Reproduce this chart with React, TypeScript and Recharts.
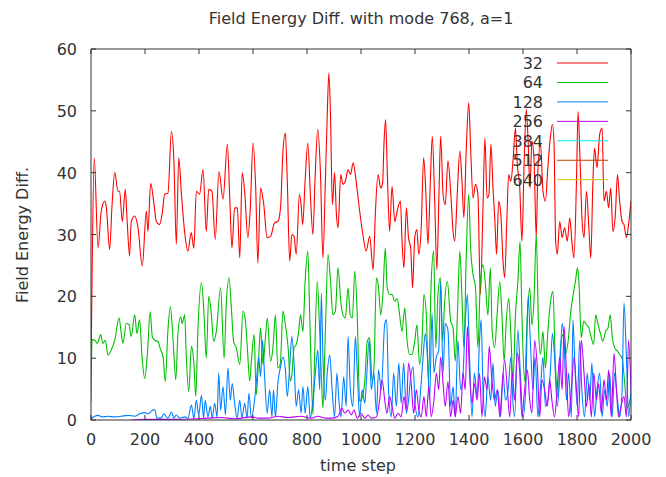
import React from 'react';
import { LineChart, Line, XAxis, YAxis } from 'recharts';

const FONT = '"DejaVu Sans", sans-serif';
const TEXT = '#333333';
const FRAME = '#333333';

const chartTitle = 'Field Energy Diff. with mode 768, a=1';
const xLabel = 'time step';
const yLabel = 'Field Energy Diff.';

const xTicks = [0, 200, 400, 600, 800, 1000, 1200, 1400, 1600, 1800, 2000];
const yTicks = [0, 10, 20, 30, 40, 50, 60];

const seriesNames = ['32', '64', '128', '256', '384', '512', '640'];
const seriesColors = ['#ff0000', '#00c000', '#0080ff', '#c000ff', '#00eeee', '#c04000', '#c8c800'];

// [time step, value]
const mode32: [number, number][] = [
  [0, 8], [4, 23.5], [12, 42.4], [26, 27.8], [38, 33.8], [51, 35.4], [57, 34.3], [69, 27.6], [78, 34.8], [88, 40.0],
  [100, 37.0], [106, 37.0], [116, 32.1], [127, 37.3], [134, 32.1], [143, 26.5], [149, 32.1], [162, 33.0], [174, 31.1], [190, 24.9],
  [205, 33.8], [211, 30.5], [221, 38.3], [232, 35.4], [242, 32.1], [254, 31.6], [263, 33.2], [273, 36.5], [285, 36.7], [298, 46.7],
  [307, 41.9], [316, 28.4], [325, 42.4], [335, 36.5], [347, 30.3], [359, 27.3], [371, 30.3], [381, 27.8], [390, 37.0], [402, 36.5],
  [415, 40.5], [427, 30.5], [436, 37.3], [448, 37.0], [460, 29.2], [474, 40.2], [489, 35.7], [505, 44.6], [514, 35.9], [522, 27.8],
  [532, 34.3], [542, 34.3], [551, 26.2], [560, 40.0], [569, 37.0], [581, 29.5], [590, 34.3], [600, 44.8], [610, 37.5], [618, 25.4],
  [628, 37.5], [640, 34.8], [652, 29.5], [665, 29.7], [680, 31.9], [692, 32.1], [702, 34.3], [711, 43.5], [720, 46.4], [727, 38.6],
  [736, 25.7], [744, 30.0], [752, 29.7], [760, 26.8], [772, 36.5], [778, 34.8], [784, 31.6], [793, 38.6], [803, 44.8], [813, 35.9],
  [822, 30.0], [830, 39.2], [840, 47.0], [850, 39.7], [859, 26.2], [868, 38.6], [875, 49.4], [881, 56.1], [887, 49.4], [894, 34.8],
  [902, 40.0], [909, 33.2], [915, 31.1], [925, 39.7], [933, 38.1], [942, 38.6], [952, 40.5], [961, 39.7], [971, 41.6], [982, 38.6],
  [995, 33.8], [1007, 30.0], [1019, 27.3], [1032, 29.7], [1045, 24.3], [1053, 33.2], [1063, 39.7], [1073, 37.5], [1080, 38.3], [1085, 44.6],
  [1091, 48.6], [1098, 39.2], [1106, 30.5], [1115, 37.8], [1125, 32.1], [1134, 33.8], [1146, 35.4], [1152, 28.9], [1159, 24.6], [1168, 34.3],
  [1176, 29.5], [1184, 27.8], [1191, 21.4], [1199, 29.5], [1207, 30.8], [1214, 26.8], [1223, 31.1], [1232, 42.4], [1240, 37.0], [1248, 28.4],
  [1257, 38.9], [1264, 45.9], [1273, 35.4], [1281, 24.3], [1289, 37.0], [1295, 45.9], [1304, 36.5], [1312, 34.8], [1322, 41.9], [1332, 37.0],
  [1341, 30.5], [1347, 28.9], [1357, 37.0], [1366, 43.5], [1374, 38.6], [1381, 32.7], [1390, 44.0], [1399, 51.3], [1406, 44.0], [1415, 35.9],
  [1424, 38.1], [1433, 36.5], [1442, 20.3], [1452, 34.8], [1459, 45.6], [1467, 35.9], [1474, 36.5], [1481, 44.6], [1489, 37.5], [1496, 32.1],
  [1502, 26.8], [1510, 35.4], [1518, 33.2], [1526, 25.7], [1532, 23.0], [1540, 32.1], [1547, 39.7], [1555, 38.6], [1563, 41.9], [1572, 47.2],
  [1579, 41.3], [1588, 37.5], [1596, 28.9], [1604, 41.3], [1612, 50.2], [1619, 45.1], [1626, 37.5], [1633, 45.1], [1641, 41.9], [1649, 29.5],
  [1655, 40.2], [1665, 44.6], [1674, 37.0], [1683, 35.4], [1692, 40.8], [1701, 45.6], [1709, 47.8], [1715, 44.6], [1721, 28.9], [1727, 26.8],
  [1736, 32.1], [1745, 29.5], [1754, 31.1], [1764, 28.9], [1773, 32.7], [1782, 28.4], [1789, 26.2], [1798, 38.6], [1804, 49.9], [1811, 42.4],
  [1819, 32.1], [1826, 29.5], [1835, 37.0], [1844, 31.1], [1851, 26.2], [1859, 38.6], [1865, 44.0], [1874, 40.8], [1884, 46.2], [1893, 47.2],
  [1900, 35.4], [1909, 37.0], [1917, 34.3], [1925, 37.5], [1933, 30.5], [1942, 33.2], [1950, 39.7], [1958, 35.4], [1967, 32.1], [1974, 31.6],
  [1983, 29.5], [1991, 31.6], [2000, 35.4],
];

const mode64: [number, number][] = [
  [0, 3], [4, 13], [14, 12.9], [23, 12.4], [36, 13.8], [44, 12.4], [53, 12.9], [63, 10.5], [75, 11.3], [88, 12.9],
  [104, 16.5], [112, 14.0], [118, 12.4], [131, 15.6], [141, 15.4], [149, 13.5], [162, 17.0], [170, 14.0], [180, 16.2], [189, 10.2],
  [199, 6.7], [209, 10.8], [219, 17.5], [227, 13.5], [236, 12.9], [248, 12.7], [258, 11.3], [267, 10.2], [275, 6.2], [285, 14.6],
  [294, 18.3], [304, 12.9], [314, 6.5], [322, 14.0], [332, 16.7], [338, 15.6], [347, 17.0], [353, 10.2], [362, 4.6], [372, 11.9],
  [381, 9.2], [388, 3.8], [396, 14.6], [409, 22.2], [418, 17.6], [427, 10.0], [436, 20.0], [446, 17.0], [454, 12.7], [464, 14.3],
  [480, 21.4], [493, 10.0], [501, 18.7], [511, 23.0], [520, 18.1], [528, 12.7], [538, 11.7], [551, 9.0], [563, 17.6], [572, 16.0],
  [579, 11.7], [588, 6.3], [594, 9.5], [604, 13.8], [612, 4.1], [621, 10.0], [628, 14.9], [637, 9.0], [646, 13.3], [653, 16.5],
  [665, 9.5], [674, 11.7], [683, 17.0], [692, 8.4], [701, 9.0], [711, 17.6], [720, 15.4], [730, 11.7], [738, 6.3], [744, 7.3],
  [752, 11.7], [760, 12.2], [769, 14.3], [776, 17.0], [785, 14.3], [793, 22.4], [803, 27.3], [810, 17.0], [816, 7.3], [822, 0.9],
  [828, 10.0], [838, 22.4], [847, 14.3], [853, 7.3], [859, 1.9], [868, 14.3], [878, 26.8], [887, 22.4], [896, 17.0], [905, 17.6],
  [915, 24.6], [925, 19.2], [933, 17.0], [942, 16.5], [952, 21.4], [960, 17.0], [968, 16.5], [977, 24.1], [986, 17.0], [995, 3.0],
  [1004, 3.6], [1014, 6.3], [1023, 12.7], [1032, 13.3], [1041, 6.3], [1048, 8.4], [1057, 23.0], [1065, 21.4], [1073, 17.0], [1081, 20.3],
  [1090, 27.8], [1097, 21.4], [1106, 20.3], [1115, 20.3], [1125, 19.2], [1134, 19.7], [1143, 17.0], [1152, 14.3], [1162, 18.1], [1171, 12.7],
  [1180, 10.6], [1189, 10.6], [1199, 12.7], [1207, 15.4], [1217, 9.0], [1226, 12.7], [1233, 20.3], [1242, 17.0], [1250, 6.3], [1260, 22.4],
  [1269, 27.3], [1277, 11.7], [1285, 20.3], [1294, 23.0], [1302, 12.7], [1310, 19.2], [1320, 22.4], [1332, 16.0], [1341, 14.9], [1349, 9.5],
  [1357, 17.0], [1366, 27.3], [1374, 19.7], [1381, 11.7], [1390, 26.8], [1399, 36.5], [1406, 27.8], [1415, 23.5], [1424, 21.4], [1433, 11.7],
  [1442, 22.4], [1452, 25.1], [1460, 22.4], [1470, 17.0], [1479, 24.6], [1486, 14.3], [1495, 11.7], [1504, 17.0], [1514, 22.4], [1522, 17.0],
  [1530, 9.5], [1538, 16.0], [1547, 19.7], [1555, 13.8], [1563, 6.3], [1572, 17.0], [1581, 22.4], [1589, 28.9], [1596, 17.0], [1606, 6.3],
  [1616, 17.0], [1625, 21.4], [1633, 15.4], [1641, 19.7], [1649, 30.0], [1658, 14.3], [1665, 10.6], [1674, 14.3], [1683, 8.4], [1692, 14.3],
  [1702, 19.2], [1711, 20.8], [1720, 9.0], [1730, 3.6], [1739, 11.7], [1748, 13.8], [1757, 10.6], [1767, 12.7], [1777, 17.6], [1786, 20.3],
  [1794, 22.4], [1802, 24.6], [1807, 22.4], [1816, 13.3], [1825, 16.0], [1835, 15.4], [1844, 14.9], [1853, 13.3], [1862, 12.2], [1869, 17.0],
  [1878, 15.4], [1888, 13.8], [1896, 12.7], [1905, 14.3], [1915, 14.9], [1923, 17.0], [1931, 13.3], [1939, 11.7], [1950, 11.1], [1958, 10.6],
  [1967, 10.0], [1976, 6.3], [1985, 1.9], [1995, 3.0], [2000, 4.0],
];

const mode128: [number, number][] = [
  [0, 0], [4, 0.3], [14, 0.6], [26, 0.75], [44, 0.5], [63, 0.6], [88, 0.5], [112, 0.6], [137, 0.75], [162, 0.6],
  [180, 1.0], [199, 1.2], [211, 1.0], [223, 1.4], [236, 1.7], [244, 0.3], [260, 0.3], [270, 1.0], [285, 0.3], [298, 1.3],
  [307, 0.3], [316, 0.8], [328, 0.3], [347, 0.5], [359, 0.3], [372, 2.4], [381, 0.2], [390, 3.2], [399, 0.8], [409, 4.0],
  [417, 0.3], [423, 3.2], [433, 0.5], [442, 2.2], [449, 0.3], [458, 2.7], [467, 0.5], [473, 7.6], [480, 1.6], [489, 5.4],
  [498, 0.8], [507, 8.4], [516, 3.2], [523, 5.9], [532, 2.7], [541, 0.3], [551, 3.2], [559, 0.3], [569, 2.7], [578, 0.3],
  [585, 4.3], [594, 0.3], [603, 2.2], [612, 5.9], [621, 10.2], [628, 7.0], [635, 12.9], [643, 7.0], [652, 1.1], [662, 4.9],
  [670, 0.5], [676, 4.9], [683, 0.5], [692, 5.9], [702, 8.6], [711, 10.2], [720, 8.1], [727, 3.8], [736, 8.6], [744, 13.5],
  [752, 9.2], [760, 2.2], [769, 4.9], [778, 1.1], [785, 5.4], [793, 1.1], [803, 5.4], [812, 0.3], [822, 3.2], [831, 7.6],
  [840, 11.3], [847, 4.9], [853, 20.5], [859, 10.2], [868, 3.2], [875, 7.6], [884, 10.5], [893, 4.9], [902, 0.5], [911, 7.6],
  [918, 3.2], [926, 0.5], [936, 7.0], [945, 2.2], [952, 13.5], [960, 5.4], [970, 2.2], [979, 13.5], [986, 8.1], [995, 0.5],
  [1004, 4.9], [1014, 2.7], [1021, 7.0], [1030, 12.9], [1038, 4.9], [1048, 7.6], [1057, 1.1], [1065, 8.1], [1075, 4.9], [1088, 15.6],
  [1095, 16.2], [1102, 4.9], [1112, 0.5], [1121, 7.6], [1131, 2.2], [1140, 9.2], [1149, 2.7], [1158, 9.2], [1168, 1.1], [1176, 3.2],
  [1184, 7.0], [1193, 8.6], [1201, 2.2], [1211, 0.5], [1221, 4.9], [1230, 10.2], [1238, 14.0], [1246, 10.2], [1254, 3.2], [1263, 17.3],
  [1270, 7.6], [1279, 10.2], [1288, 11.3], [1295, 22.4], [1304, 7.6], [1312, 15.6], [1322, 14.6], [1332, 2.2], [1341, 5.4], [1349, 0.5],
  [1359, 12.9], [1369, 4.9], [1378, 7.6], [1386, 15.6], [1394, 20.3], [1402, 10.2], [1411, 0.5], [1420, 7.6], [1430, 3.8], [1439, 12.9],
  [1445, 16.2], [1452, 4.9], [1460, 0.5], [1470, 7.0], [1480, 3.2], [1489, 9.2], [1497, 2.2], [1507, 4.9], [1517, 0.5], [1526, 7.6],
  [1535, 3.2], [1545, 4.9], [1555, 10.2], [1563, 2.7], [1569, 0.5], [1581, 14.6], [1590, 7.6], [1600, 0.5], [1610, 4.9], [1619, 20.0],
  [1627, 12.9], [1637, 4.9], [1645, 10.2], [1655, 0.5], [1665, 5.4], [1674, 10.2], [1683, 2.2], [1692, 3.2], [1701, 7.6], [1709, 14.0],
  [1717, 10.2], [1727, 2.2], [1736, 7.6], [1745, 15.6], [1752, 12.9], [1761, 3.2], [1769, 7.6], [1779, 0.5], [1785, 16.2], [1791, 10.2],
  [1801, 2.2], [1810, 12.9], [1818, 4.9], [1828, 0.5], [1838, 7.6], [1847, 3.2], [1855, 9.2], [1865, 0.5], [1874, 4.9], [1884, 7.6],
  [1893, 0.5], [1902, 4.9], [1912, 2.2], [1921, 7.6], [1930, 0.5], [1939, 7.6], [1950, 3.2], [1958, 0.5], [1967, 4.9], [1974, 18.9],
  [1983, 10.2], [1991, 0.5], [2000, 4.9],
];

const mode256: [number, number][] = [
  [150, 0], [200, 0.1], [300, 0.1], [433, 0.3], [483, 0.4], [532, 0.2], [594, 0.5], [620, 0.3], [656, 0.3], [692, 0.6],
  [730, 0.4], [778, 0.6], [816, 0.3], [840, 0.6], [871, 0.3], [896, 0.3], [915, 0.6], [929, 1.9], [940, 1.1], [952, 1.6],
  [964, 0.8], [974, 1.6], [986, 0.3], [1000, 1.1], [1014, 0.3], [1026, 0.8], [1038, 0.3], [1057, 0.5], [1069, 3.2], [1078, 6.5],
  [1088, 3.2], [1096, 1.1], [1106, 3.8], [1115, 2.2], [1125, 0.3], [1137, 1.1], [1149, 0.5], [1159, 3.8], [1168, 1.6], [1176, 9.2],
  [1186, 5.9], [1195, 1.1], [1205, 4.9], [1214, 1.6], [1223, 0.5], [1233, 3.8], [1242, 0.5], [1251, 5.4], [1260, 0.5], [1270, 3.2],
  [1279, 7.6], [1288, 4.9], [1295, 10.2], [1304, 5.9], [1312, 2.2], [1322, 6.2], [1332, 0.5], [1341, 3.2], [1349, 0.5], [1359, 3.8],
  [1369, 1.1], [1378, 7.6], [1386, 4.9], [1394, 15.1], [1402, 7.6], [1411, 2.7], [1420, 5.9], [1430, 3.2], [1439, 7.6], [1448, 0.5],
  [1457, 7.0], [1467, 4.9], [1475, 11.9], [1484, 7.0], [1494, 3.2], [1505, 4.9], [1514, 0.5], [1522, 4.9], [1532, 9.7], [1542, 4.9],
  [1551, 0.5], [1560, 7.6], [1569, 3.2], [1579, 10.8], [1588, 7.6], [1596, 0.5], [1606, 4.9], [1616, 8.1], [1625, 3.2], [1633, 1.1],
  [1643, 12.9], [1653, 8.6], [1662, 0.5], [1670, 6.5], [1680, 4.9], [1690, 2.2], [1699, 6.5], [1707, 3.2], [1717, 0.5], [1727, 5.4],
  [1736, 10.2], [1745, 4.9], [1752, 15.1], [1761, 7.6], [1769, 0.5], [1779, 4.9], [1789, 10.2], [1798, 4.9], [1806, 0.5], [1816, 12.9],
  [1826, 7.6], [1835, 2.2], [1844, 5.9], [1853, 0.5], [1862, 7.6], [1872, 3.2], [1880, 5.9], [1890, 1.1], [1900, 6.5], [1909, 3.2],
  [1917, 8.1], [1927, 0.5], [1937, 10.8], [1946, 4.9], [1954, 0.5], [1963, 2.2], [1974, 3.8], [1983, 0.5], [1991, 12.9], [2000, 4.9],
];

const plotted: [number, number][][] = [mode32, mode64, mode128, mode256];

const toRows = (pts: [number, number][]) => pts.map(([x, y]) => ({ x, y }));

const TICK = 5;

const BottomTick = (p: any) => (
  <g>
    <line x1={p.x} y1={p.y} x2={p.x} y2={p.y - TICK} stroke={FRAME} strokeWidth={1} />
    <text x={p.x} y={p.y + 25} textAnchor="middle" fontSize={16} fontFamily={FONT} fill={TEXT}>
      {p.payload.value}
    </text>
  </g>
);
const TopTick = (p: any) => (
  <line x1={p.x} y1={p.y} x2={p.x} y2={p.y + TICK} stroke={FRAME} strokeWidth={1} />
);
const LeftTick = (p: any) => (
  <g>
    <line x1={p.x} y1={p.y} x2={p.x + TICK} y2={p.y} stroke={FRAME} strokeWidth={1} />
    <text x={p.x - 14} y={p.y + 6} textAnchor="end" fontSize={16} fontFamily={FONT} fill={TEXT}>
      {p.payload.value}
    </text>
  </g>
);
const RightTick = (p: any) => (
  <line x1={p.x} y1={p.y} x2={p.x - TICK} y2={p.y} stroke={FRAME} strokeWidth={1} />
);

const W = 658;
const H = 469;

export default function App() {
  const common = {
    tickLine: false,
    tickSize: 0,
    tickMargin: 0,
    interval: 0 as const,
    axisLine: { stroke: FRAME, strokeWidth: 1 },
    allowDataOverflow: true,
  };
  return (
    <div style={{ position: 'relative', width: W, height: H, background: '#fff' }}>
      <LineChart width={W} height={H} margin={{ top: 0, right: 0, bottom: 0, left: 0 }}>
        <XAxis xAxisId="b" dataKey="x" type="number" domain={[0, 2000]} ticks={xTicks} height={57}
          {...common} tick={(p: any) => <BottomTick {...p} />} />
        <XAxis xAxisId="t" orientation="top" dataKey="x" type="number" domain={[0, 2000]} ticks={xTicks} height={41}
          {...common} tick={(p: any) => <TopTick {...p} />} />
        <YAxis yAxisId="l" type="number" domain={[0, 60]} ticks={yTicks} width={83}
          {...common} tick={(p: any) => <LeftTick {...p} />} />
        <YAxis yAxisId="r" orientation="right" type="number" domain={[0, 60]} ticks={yTicks} width={35}
          {...common} tick={(p: any) => <RightTick {...p} />} />
        {plotted.map((pts, i) => (
          <Line key={seriesNames[i]} name={seriesNames[i]} xAxisId="b" yAxisId="l" data={toRows(pts)}
            dataKey="y" type="monotone" stroke={seriesColors[i]} strokeWidth={1.1} dot={false} activeDot={false}
            isAnimationActive={false} />
        ))}
      </LineChart>
      <svg width={W} height={H} style={{ position: 'absolute', left: 0, top: 0, pointerEvents: 'none' }}>
        <text x={353} y={16} textAnchor="middle" fontSize={16} fontFamily={FONT} fill={TEXT}>{chartTitle}</text>
        <text x={350} y={463} textAnchor="middle" fontSize={16} fontFamily={FONT} fill={TEXT}>{xLabel}</text>
        <text x={0} y={0} transform="translate(20,227) rotate(-90)" textAnchor="middle" fontSize={16}
          fontFamily={FONT} fill={TEXT}>{yLabel}</text>
        {seriesNames.map((n, i) => {
          const cy = 55 + i * 19.45;
          return (
            <g key={n}>
              <text x={535} y={cy + 6} textAnchor="end" fontSize={16} fontFamily={FONT} fill={TEXT}>{n}</text>
              <line x1={549} y1={cy} x2={600} y2={cy} stroke={seriesColors[i]} strokeWidth={1} />
            </g>
          );
        })}
      </svg>
    </div>
  );
}
